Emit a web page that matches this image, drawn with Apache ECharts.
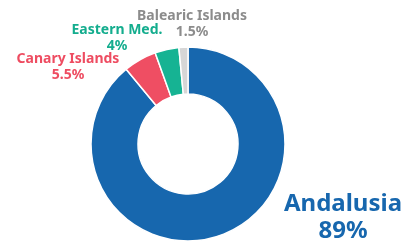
<!DOCTYPE html>
<html><head><meta charset="utf-8">
<script src="https://cdn.jsdelivr.net/npm/echarts@6/dist/echarts.min.js"></script>
<style>html,body{margin:0;padding:0;background:#fff}#c{width:410px;height:246px}</style>
</head><body><div id="c"></div>
<script>
const categories = ['Andalusia', 'Canary Islands', 'Eastern Med.', 'Balearic Islands'];
const values = [89, 5.5, 4, 1.5];
const valueLabels = ['89%', '5.5%', '4%', '1.5%'];
const colors = ['#1767ae', '#ef4e63', '#16b393', '#d6d6d6'];
const labelColors = ['#1767ae', '#ee4c61', '#14ad8e', '#8c8c8c'];

const labelPos = [
  {x: 343, y: 218, size: 24, lh: 27},
  {x: 68, y: 67, size: 14, lh: 16},
  {x: 117, y: 38, size: 14, lh: 16},
  {x: 192, y: 24, size: 14, lh: 16}
];

const chart = echarts.init(document.getElementById('c'), null, {renderer: 'canvas'});
chart.setOption({
  animation: false,
  series: [{
    type: 'pie',
    center: [188, 144],
    radius: [50, 97],
    startAngle: 90,
    clockwise: true,
    avoidLabelOverlap: false,
    itemStyle: {borderColor: '#fff', borderWidth: 1.5},
    labelLine: {show: false},
    data: categories.map((c, i) => ({
      name: c,
      value: values[i],
      itemStyle: {color: colors[i]},
      label: {
        show: true,
        formatter: c + '\n' + valueLabels[i],
        color: labelColors[i],
        fontFamily: 'Noto Sans',
        fontWeight: 'bold',
        fontSize: labelPos[i].size,
        lineHeight: labelPos[i].lh,
        align: 'center'
      }
    })),
    labelLayout: function (p) {
      const lp = labelPos[p.dataIndex];
      return {x: lp.x, y: lp.y, align: 'center', verticalAlign: 'middle'};
    }
  }]
});
</script></body></html>
